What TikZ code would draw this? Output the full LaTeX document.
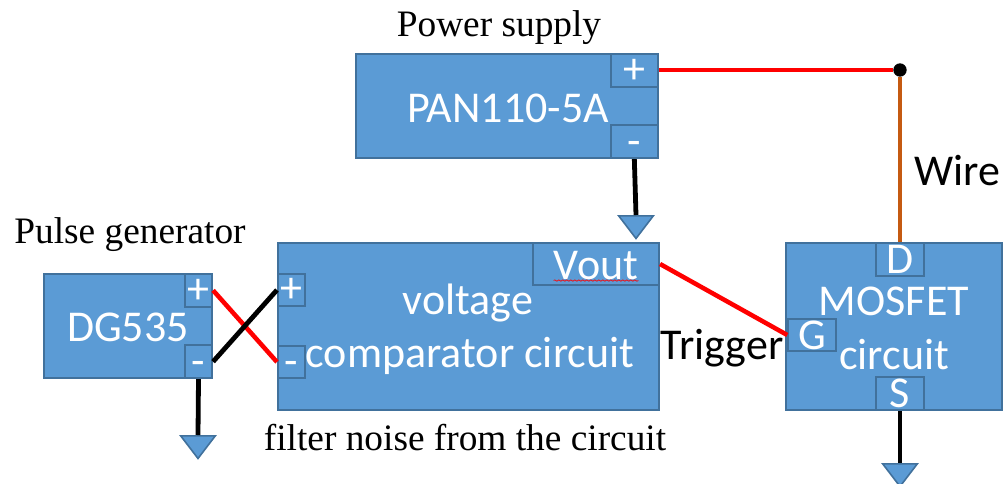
\documentclass[tikz,border=0pt]{standalone}
\usepackage{fontspec}
\setmainfont{Liberation Serif}
\newfontfamily\boxfont{Carlito}
\usetikzlibrary{arrows,positioning,shapes.geometric,decorations.pathmorphing}
\definecolor{boxfill}{HTML}{5B9BD5}
\definecolor{boxline}{HTML}{41719C}
\definecolor{wireorange}{HTML}{C55A11}
\newcommand{\plussign}{\raisebox{-9.5pt}[0pt][0pt]{+}}
\newcommand{\minussign}{\raisebox{-10pt}[0pt][0pt]{-}}
\tikzstyle{block}=[draw=boxline,fill=boxfill,line width=1.6pt,text=white,inner sep=0pt,font=\boxfont\fontsize{33}{40}\selectfont]
\tikzstyle{boxtext}=[text=white,inner sep=0pt,font=\boxfont\fontsize{33}{40}\selectfont]
\tikzstyle{port}=[block,minimum width=20.25pt,minimum height=24.5pt]
\tikzstyle{wideport}=[block,minimum width=35.5pt,minimum height=24.5pt]
\tikzstyle{ground}=[draw=boxline,fill=boxfill,line width=1.2pt,isosceles triangle,isosceles triangle stretches,shape border rotate=-90,minimum width=26pt,minimum height=17pt,inner sep=0pt]
\tikzstyle{caption}=[font=\fontsize{28}{32}\selectfont,inner sep=0pt]
\tikzstyle{note}=[font=\boxfont\fontsize{33}{40}\selectfont,inner sep=0pt]
\tikzstyle{redwire}=[draw=red,line width=3.4pt]
\tikzstyle{blackwire}=[draw=black,line width=3.6pt]
\tikzstyle{orangewire}=[draw=wireorange,line width=3.2pt]
\begin{document}
\begin{tikzpicture}[x=0.75pt,y=-0.75pt]
        \useasboundingbox (0,0) rectangle (1004,483);
        % main boxes
        \node[block,minimum width=226.5pt,minimum height=78pt](pan) at (507,106) {};
        \node[block,minimum width=126pt,minimum height=78pt](dg) at (128,326) {};
        \node[block,minimum width=285.75pt,minimum height=125.25pt](comp) at (468.5,326.5) {};
        \node[block,minimum width=162pt,minimum height=125.25pt](mos) at (894,326.5) {};
        \node[boxtext](pantext) at (508,108) {PAN110-5A};
        \node[boxtext](dgtext) at (128,327) {DG535};
        \node[boxtext](volttext) at (468,303) {voltage};
        \node[boxtext](comptext) at (470,356) {comparator circuit};
        \node[boxtext](mostext) at (894,301) {MOSFET};
        \node[boxtext](circtext) at (894,355) {circuit};
        % ports
        \node[wideport,anchor=north east](panplus) at (pan.north east) {\plussign};
        \node[wideport,anchor=south east](panminus) at (pan.south east) {\minussign};
        \node[port,anchor=north east](dgplus) at (dg.north east) {\plussign};
        \node[port,anchor=south east](dgminus) at (dg.south east) {\minussign};
        \node[port](compplus) at (291.5,290) {\plussign};
        \node[port](compminus) at (291.5,362) {\minussign};
        \node[block,minimum width=94.5pt,minimum height=31.5pt,anchor=north east](vout) at (comp.north east) {};
        \node[boxtext](vouttext) at (596,266) {Vout};
        \node[wideport,anchor=north](drain) at (mos.north -| 900,0) {D};
        \node[wideport,anchor=south](source) at (mos.south -| 900,0) {S};
        \node[wideport,minimum height=23.5pt](gate) at (812,335) {G};
        % grounds and the junction
        \node[ground,anchor=lower side](gnda) at (636,215) {};
        \node[ground,anchor=lower side](gndb) at (198,435) {};
        \node[ground,anchor=lower side](gndc) at (900,463) {};
        \node[circle,fill=black,inner sep=0pt,minimum size=10pt](junction) at (900,70) {};
        % labels
        \node[caption](powerlabel) at (499,28) {Power supply};
        \node[caption](pulselabel) at (130,235) {Pulse generator};
        \node[caption](filterlabel) at (465,438) {filter noise from the circuit};
        \node[note](wirelabel) at (957,171) {Wire};
        \node[note](triggerlabel) at (722,348) {Trigger};
        \draw[red,line width=0.5pt,decorate,decoration={snake,amplitude=0.5pt,segment length=3pt}]
        (vouttext.south west) -- (vouttext.south east);
        \path
        (panplus.east |- junction) edge [redwire] (junction)
        (junction) edge [orangewire] (drain.north)
        (panminus.south) edge [blackwire] (gnda.lower side)
        (dgplus.east) edge [redwire] (compminus.west)
        (dgminus.east) edge [blackwire] (compplus.west)
        (dgminus.south) edge [blackwire] (gndb.lower side)
        (vout.east) edge [redwire] (gate.west)
        (source.south) edge [blackwire] (gndc.lower side)
        ;
    \end{tikzpicture}
\end{document}
